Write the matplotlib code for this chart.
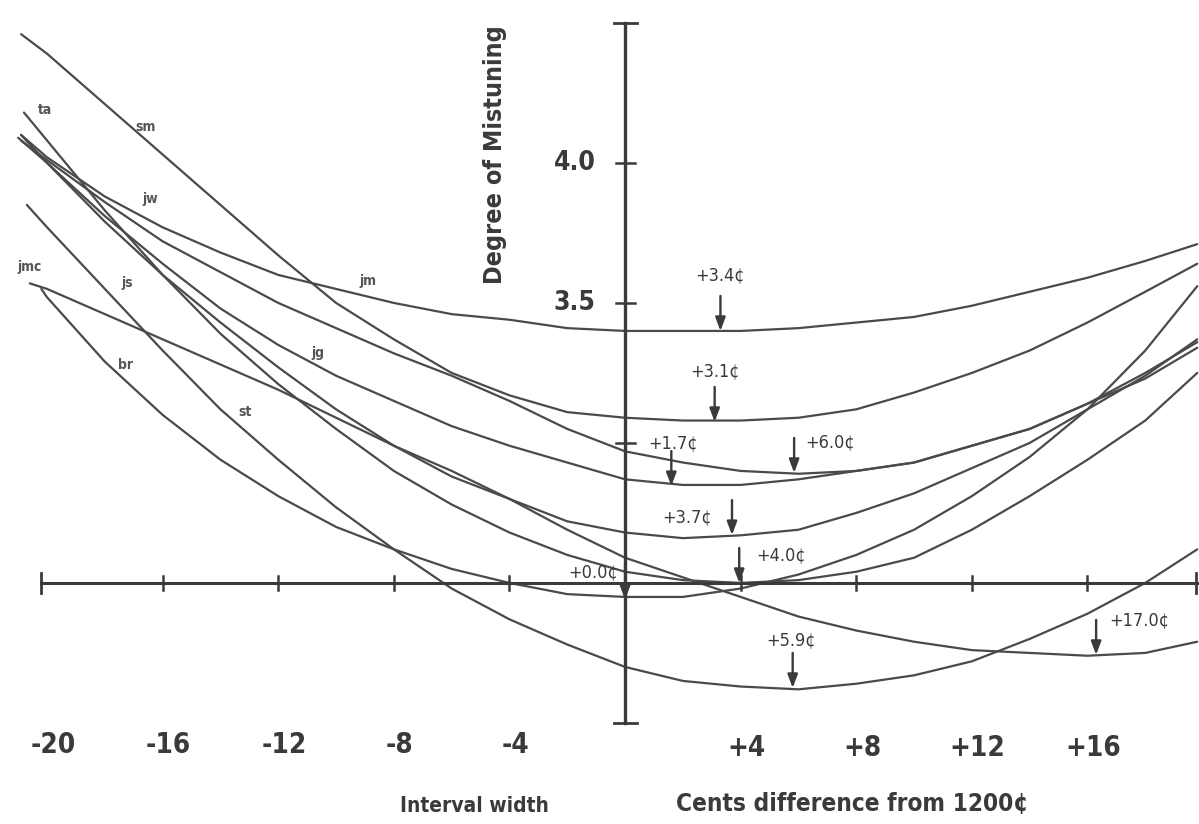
import matplotlib
matplotlib.use("Agg")
import matplotlib.pyplot as plt

cents = [-20, -18, -16, -14, -12, -10, -8, -6, -4, -2, 0, 2, 4, 6, 8, 10, 12, 14, 16, 18, 19.8]

# degree of mistuning, one list per listener curve (named by its best stretch)
best_34 = [4.02, 3.88, 3.77, 3.68, 3.60, 3.55, 3.50, 3.46, 3.44, 3.41, 3.40,
           3.40, 3.40, 3.41, 3.43, 3.45, 3.49, 3.54, 3.59, 3.65, 3.71]
best_31 = [4.39, 4.21, 4.03, 3.85, 3.67, 3.50, 3.37, 3.25, 3.17, 3.11, 3.09,
           3.08, 3.08, 3.09, 3.12, 3.18, 3.25, 3.33, 3.43, 3.54, 3.64]
best_17 = [4.00, 3.81, 3.64, 3.48, 3.35, 3.24, 3.15, 3.06, 2.99, 2.93, 2.87,
           2.85, 2.85, 2.87, 2.90, 2.93, 2.99, 3.05, 3.14, 3.23, 3.34]
best_60 = [4.01, 3.86, 3.72, 3.61, 3.50, 3.41, 3.32, 3.24, 3.15, 3.05, 2.97,
           2.93, 2.90, 2.89, 2.90, 2.93, 2.99, 3.05, 3.14, 3.25, 3.36]
best_37 = [4.00, 3.79, 3.60, 3.43, 3.27, 3.12, 2.99, 2.88, 2.80, 2.72, 2.68,
           2.66, 2.67, 2.69, 2.75, 2.82, 2.91, 3.00, 3.12, 3.24, 3.37]
best_40 = [4.08, 3.83, 3.60, 3.39, 3.21, 3.05, 2.90, 2.78, 2.68, 2.60, 2.54,
           2.51, 2.50, 2.51, 2.54, 2.59, 2.69, 2.81, 2.94, 3.08, 3.25]
best_00 = [3.52, 3.29, 3.10, 2.94, 2.81, 2.70, 2.62, 2.55, 2.50, 2.46, 2.45,
           2.45, 2.48, 2.53, 2.60, 2.69, 2.81, 2.95, 3.12, 3.33, 3.56]
best_59 = [3.77, 3.55, 3.33, 3.12, 2.94, 2.77, 2.62, 2.48, 2.37, 2.28, 2.20,
           2.15, 2.13, 2.12, 2.14, 2.17, 2.22, 2.30, 2.39, 2.50, 2.62]
best_170 = [3.55, 3.46, 3.37, 3.28, 3.19, 3.09, 2.99, 2.90, 2.80, 2.69, 2.59,
            2.52, 2.45, 2.38, 2.33, 2.29, 2.26, 2.25, 2.24, 2.25, 2.29]

# where each curve begins on the left
start_cents = [-20.9, -20.9, -21.0, -20.9, -20.9, -20.8, -20.2, -20.7, -20.6]
start_value = [4.10, 4.46, 4.09, 4.08, 4.10, 4.18, 3.55, 3.85, 3.57]

# minima marked with arrows
best_text = ["+3.4¢", "+3.1¢", "+1.7¢", "+6.0¢", "+3.7¢", "+4.0¢", "+0.0¢", "+5.9¢", "+17.0¢"]
best_cents = [3.3, 3.1, 1.6, 5.85, 3.7, 3.95, 0.0, 5.8, 16.3]
best_value = [3.40, 3.075, 2.846, 2.893, 2.671, 2.50, 2.44, 2.125, 2.243]

# listener initials
listeners = ["ta", "sm", "jw", "jm", "jmc", "js", "br", "jg", "st"]

x_ticks = [-16, -12, -8, -4, 4, 8, 12, 16]
x_tick_labels = ["-16", "-12", "-8", "-4", "+4", "+8", "+12", "+16"]
y_ticks = [3.0, 3.5, 4.0]

curves = [best_34, best_31, best_17, best_60, best_37, best_40, best_00, best_59, best_170]

INK = "#3a3a3a"
FONT = ["DejaVu Sans"]

fig = plt.figure(figsize=(11.99, 8.24), dpi=100)
ax = fig.add_axes([0, 0, 1, 1])
ax.set_xlim(-21.63, 19.86)
ax.set_ylim(1.639, 4.582)
ax.axis("off")

# curves
for i, ys in enumerate(curves):
    ax.plot([start_cents[i]] + cents, [start_value[i]] + ys, color="#4a4a4a", lw=1.6,
            solid_capstyle="round", solid_joinstyle="round")

# axes drawn by hand, crossing at (0, 2.5)
ax.plot([-20.2, 19.86], [2.5, 2.5], color=INK, lw=2.2)
ax.plot([0, 0], [2.0, 4.5], color=INK, lw=2.4)
for t in x_ticks:
    ax.plot([t, t], [2.475, 2.525], color=INK, lw=1.8)
for t in [-20.2, 19.75]:
    ax.plot([t, t], [2.465, 2.535], color=INK, lw=2.0)
for t in y_ticks:
    ax.plot([-0.33, 0.33], [t, t], color=INK, lw=1.8)
for t in [2.0, 4.5]:
    ax.plot([-0.4, 0.4], [t, t], color=INK, lw=2.0)

# tick labels
for t, lab in zip([-20] + x_ticks, ["-20"] + x_tick_labels):
    ax.text(t + 0.2, 1.921 if t < 0 else 1.91, lab, ha="center", va="center", fontsize=20,
            fontweight="bold", family=FONT, fontstretch="condensed", color=INK)
for t in [3.5, 4.0]:
    ax.text(-1.75, t, "%.1f" % t, ha="center", va="center", fontsize=19,
            fontweight="bold", family=FONT, fontstretch="condensed", color=INK)

# axis titles
ax.text(-4.5, 4.03, "Degree of Mistuning", rotation=90, ha="center", va="center",
        fontsize=18, fontweight="bold", family=FONT, fontstretch="condensed", color=INK)
ax.text(-5.2, 1.705, "Interval width", ha="center", va="center", fontsize=15,
        fontweight="bold", family=FONT, fontstretch="condensed", color=INK)
ax.text(7.85, 1.71, "Cents difference from 1200¢", ha="center", va="center", fontsize=17.5,
        fontweight="bold", family=FONT, fontstretch="condensed", color=INK)

# arrows marking each curve's minimum
text_offset = [(0, 0.20, "center"), (0, 0.18, "center"), (0.05, 0.155, "center"),
               (0.4, 0.11, "left"), (-0.7, 0.065, "right"), (0.6, 0.10, "left"),
               (-0.24, 0.10, "right"), (-0.05, 0.17, "center"), (0.45, 0.125, "left")]
for x, y, lab, (dx, dy, ha) in zip(best_cents, best_value, best_text, text_offset):
    ax.annotate("", xy=(x, y), xytext=(x, y + 0.125),
                arrowprops=dict(arrowstyle="-|>,head_length=0.8,head_width=0.3",
                                color=INK, lw=1.7, shrinkA=0, shrinkB=0))
    ax.text(x + dx, y + dy, lab, ha=ha, va="center", fontsize=13, family=FONT,
            fontstretch="condensed", color=INK)

# listener initials next to the curves
label_pos = [(-20.07, 4.19), (-16.61, 4.13), (-16.44, 3.87), (-8.89, 3.58), (-20.59, 3.63),
             (-17.23, 3.57), (-17.30, 3.28), (-10.62, 3.32), (-13.15, 3.11)]
for name, (x, y) in zip(listeners, label_pos):
    ax.text(x, y, name, ha="center", va="center", fontsize=10, fontweight="bold",
            family=FONT, fontstretch="condensed", color="#555555")

fig.savefig("out.png", dpi=100)
